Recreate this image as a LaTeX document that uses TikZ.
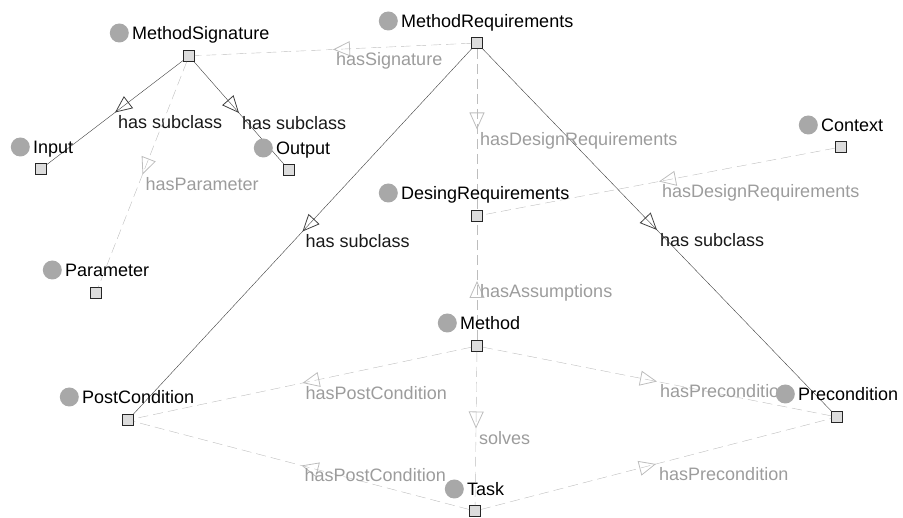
\documentclass[tikz,border=0pt]{standalone}
\usepackage{fontspec}
\setmainfont{Liberation Sans}
\usetikzlibrary{arrows.meta,decorations.markings}
\definecolor{ballgray}{HTML}{A8A8A8}
\definecolor{boxfill}{HTML}{DCDCDC}
\definecolor{subline}{HTML}{404040}
\definecolor{propline}{HTML}{BDBDBD}
\definecolor{proptext}{HTML}{9C9C9C}
\newcommand{\cfont}{\fontsize{18}{20}\selectfont}
\tikzset{
    cbox/.style={draw=black!85,fill=boxfill,line width=0.9pt,minimum size=11pt,inner sep=0pt},
    ball/.style={circle,fill=ballgray,minimum size=19pt,inner sep=0pt,label distance=2pt},
    cname/.style={anchor=west,inner sep=1pt,text height=12.5pt,text depth=0pt,font=\cfont,label={[ball]west:}},
    midtip/.style={postaction={decorate,decoration={markings,
        mark=at position 0.5 with {\arrow{Triangle[open,length=17pt,width=15pt,line width=0.8pt]}}}}},
    sub/.style={draw=subline,thin,midtip},
    prop/.style={draw=propline,thin,dash pattern=on 10pt off 5pt,midtip},
    sublabel/.style={anchor=north west,inner sep=3pt,font=\cfont,text=black!90},
    proplabel/.style={anchor=north west,inner sep=3pt,font=\cfont,text=proptext},
}
\begin{document}
\begin{tikzpicture}[x=1pt,y=-1pt]
    \useasboundingbox (0,0) rectangle (903,518);

    % class boxes
    \node[cbox] (sig)     at (189, 56) {};
    \node[cbox] (req)     at (477, 43) {};
    \node[cbox] (input)   at (41, 169) {};
    \node[cbox] (output)  at (289,170) {};
    \node[cbox] (param)   at (96, 293) {};
    \node[cbox] (context) at (841,147) {};
    \node[cbox] (design)  at (477,216) {};
    \node[cbox] (method)  at (477,346) {};
    \node[cbox] (post)    at (128,420) {};
    \node[cbox] (pre)     at (837,417) {};
    \node[cbox] (task)    at (475,511) {};

    % subclass links
    \path (sig) edge[sub] node[sublabel] {has subclass} (input)
                edge[sub] node[sublabel] {has subclass} (output);
    \path (req) edge[sub] node[sublabel] {has subclass} (post)
                edge[sub] node[sublabel] {has subclass} (pre);

    % properties
    \path (req) edge[prop] node[proplabel] {hasSignature} (sig)
                edge[prop] node[proplabel] {hasDesignRequirements} (design);
    \path (sig) edge[prop] node[proplabel] {hasParameter} (param);
    \path (context) edge[prop] node[proplabel] {hasDesignRequirements} (design);
    \path (method) edge[prop] node[proplabel] {hasAssumptions} (design)
                   edge[prop] node[proplabel] {solves} (task)
                   edge[prop] node[proplabel] {hasPostCondition} (post)
                   edge[prop] node[proplabel] {hasPrecondition} (pre);
    \path (task) edge[prop] node[proplabel] {hasPostCondition} (post)
                 edge[prop] node[proplabel] {hasPrecondition} (pre);

    % class names
    \node[cname] (sig-name)     at (131, 33) {MethodSignature};
    \node[cname] (req-name)     at (400, 21) {MethodRequirements};
    \node[cname] (input-name)   at (32, 147) {Input};
    \node[cname] (output-name)  at (275,148) {Output};
    \node[cname] (param-name)   at (64, 270) {Parameter};
    \node[cname] (context-name) at (820,125) {Context};
    \node[cname] (design-name)  at (400,193) {DesingRequirements};
    \node[cname] (method-name)  at (459,323) {Method};
    \node[cname] (post-name)    at (81, 397) {PostCondition};
    \node[cname] (pre-name)     at (797,394) {Precondition};
    \node[cname] (task-name)    at (466,489) {Task};
\end{tikzpicture}
\end{document}
